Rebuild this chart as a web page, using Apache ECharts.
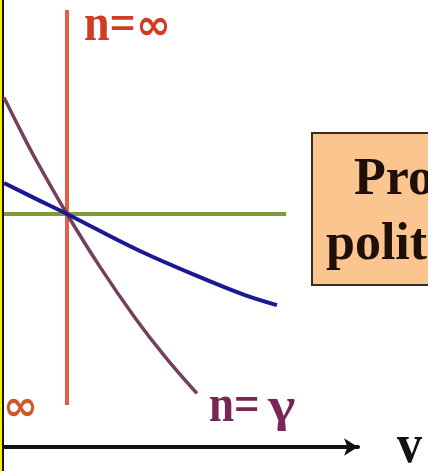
<!DOCTYPE html>
<html>
<head>
<meta charset="utf-8">
<script src="https://cdn.jsdelivr.net/npm/echarts@6/dist/echarts.min.js"></script>
<style>
  html, body { margin: 0; padding: 0; background: #ffffff; }
  #chart { width: 428px; height: 471px; }
</style>
</head>
<body>
<div id="chart"></div>
<script>
// Polytropic processes p·V^n = const through a common state (V = 1, p = 1)

// n = 0 : isobaric
const isobaricV = [0, 4.48];
const isobaricP = [1, 1];

// n = ∞ : isochoric
const isochoricV = [1, 1];
const isochoricP = [0.18, 1.875];

// n = 1 : isothermal
const isothermV = [0, 0.492, 1, 2.159, 3.333, 3.825, 4.333];
const isothermP = [1.133, 1.067, 1, 0.841, 0.704, 0.652, 0.609];

// n = γ : adiabatic
const adiabatV = [0, 0.254, 0.492, 1, 1.524, 2.079, 2.556, 3.063];
const adiabatP = [1.500, 1.363, 1.240, 1, 0.773, 0.555, 0.388, 0.230];

const labelTop = ['n=', '∞'];
const labelLeft = '∞';
const labelGamma = ['n=', 'γ'];
const axisName = 'v';
const boxLines = ['Proceso', 'politrópico'];

const pairs = (xs, ys) => xs.map((x, i) => [x, ys[i]]);

const serif = '"Liberation Serif", "DejaVu Serif", serif';
const sans = '"DejaVu Sans", sans-serif';

const chart = echarts.init(document.getElementById('chart'), null, { renderer: 'canvas' });

const txt = (x, y, text, font, fill, sx, sy) => ({
  type: 'text', x: x, y: y, scaleX: sx || 1, scaleY: sy || 1,
  style: { text: text, font: font, fill: fill, align: 'left', verticalAlign: 'middle' }
});

chart.setOption({
  backgroundColor: '#ffffff',
  animation: false,
  grid: { left: 4, top: 10.1, width: 354, bottom: 24, containLabel: false },
  xAxis: {
    type: 'value', min: 0, max: 5.62,
    axisLine: {
      show: true, onZero: false,
      symbol: ['none', 'arrow'], symbolSize: [13, 14],
      lineStyle: { color: '#111111', width: 4 }
    },
    axisTick: { show: false }, axisLabel: { show: false }, splitLine: { show: false }
  },
  yAxis: {
    type: 'value', min: 0, max: 1.875,
    axisLine: { show: false }, axisTick: { show: false },
    axisLabel: { show: false }, splitLine: { show: false }
  },
  series: [
    {
      name: 'isobaric', type: 'line', data: pairs(isobaricV, isobaricP),
      showSymbol: false, lineStyle: { color: '#7d9b3e', width: 4 }
    },
    {
      name: 'isochoric', type: 'line', data: pairs(isochoricV, isochoricP),
      showSymbol: false, lineStyle: { color: '#e25e4b', width: 4 }
    },
    {
      name: 'adiabatic', type: 'line', data: pairs(adiabatV, adiabatP),
      smooth: 0.4, showSymbol: false, lineStyle: { color: '#763f5e', width: 3.5 }
    },
    {
      name: 'isothermal', type: 'line', data: pairs(isothermV, isothermP),
      smooth: 0.4, showSymbol: false, lineStyle: { color: '#1c1894', width: 4 }
    }
  ],
  graphic: [
    // slide frame on the left edge
    { type: 'rect', x: 0, y: 0, shape: { width: 2, height: 471 }, style: { fill: '#f4f000' } },
    { type: 'rect', x: 2, y: 0, shape: { width: 2, height: 471 }, style: { fill: '#151515' } },
    // caption box
    {
      type: 'rect', x: 312, y: 133, shape: { width: 200, height: 152 },
      style: { fill: '#fbc590', stroke: '#3a2c22', lineWidth: 2 }
    },
    txt(354, 180, boxLines[0], 'bold 52px ' + serif, '#1e0f08', 1, 1.02),
    txt(326, 245, boxLines[1], 'bold 52px ' + serif, '#1e0f08', 1, 1.02),
    // curve labels
    txt(84, 26, labelTop[0], 'bold 46px ' + serif, '#d23a22', 1, 1.15),
    txt(136, 28, labelTop[1], 'bold 42px ' + sans, '#d23a22'),
    txt(3, 409, labelLeft, 'bold 42px ' + sans, '#d2582a'),
    txt(209, 408, labelGamma[0], 'bold 45px ' + serif, '#7b2552', 1, 1.15),
    txt(268, 408, labelGamma[1], 'bold 45px ' + serif, '#7b2552', 1.3, 1.1),
    // axis name
    txt(397, 448, axisName, 'bold 50px ' + serif, '#111111', 1, 1.1)
  ]
});
</script>
</body>
</html>
